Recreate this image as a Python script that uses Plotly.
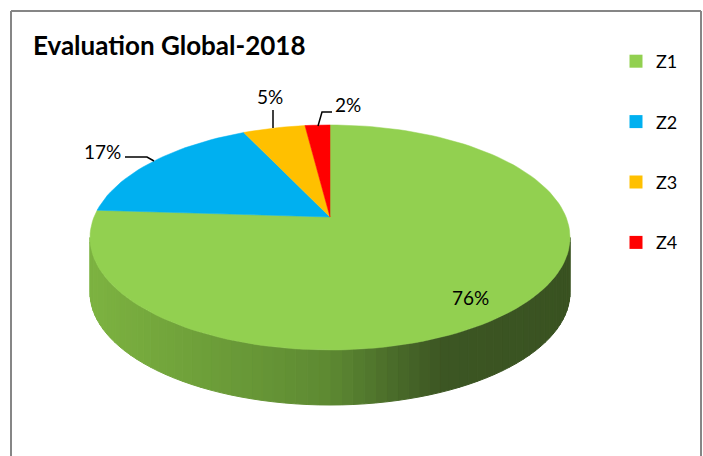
import math
import plotly.graph_objects as go

# ---- data ----
zones = ["Z1", "Z2", "Z3", "Z4"]
values = [76, 17, 5, 2]
labels = ["76%", "17%", "5%", "2%"]
colors = ["#92D050", "#00B0F0", "#FFC000", "#FF0000"]

W, H = 703, 456
# pie geometry (pixel space of the hidden axes)
CX, CY = 330, 217       # apex of the pie
RX, RY = 236, 108.8     # radii
K = 0.182               # perspective factor
DEPTH = 55              # thickness of the 3D side


def proj(theta_deg, r=1.0):
    t = math.radians(theta_deg)
    u, v = r * math.sin(t), r * math.cos(t)
    s = 1.0 / (1.0 + K * v)
    return CX + RX * u * s, CY - RY * v * s


def arc(a0, a1, n):
    pts = [proj(a0 + (a1 - a0) * i / n) for i in range(n + 1)]
    return [p[0] for p in pts], [p[1] for p in pts]


def lerp_color(x):
    stops = [(94, (124, 178, 64)), (330, (93, 137, 50)), (440, (60, 86, 35)), (570, (57, 82, 33))]
    if x <= stops[0][0]:
        c = stops[0][1]
    elif x >= stops[-1][0]:
        c = stops[-1][1]
    else:
        for (x0, c0), (x1, c1) in zip(stops, stops[1:]):
            if x0 <= x <= x1:
                f = (x - x0) / (x1 - x0)
                c = tuple(c0[i] + (c1[i] - c0[i]) * f for i in range(3))
                break
    return "rgb(%d,%d,%d)" % tuple(int(round(v)) for v in c)


fig = go.Figure()

# ---- side wall (front half, belongs to the first slice) ----
ta = math.degrees(math.acos(-K))
tb = 360 - ta
N = 70
for i in range(N):
    a0 = ta + (tb - ta) * i / N
    a1 = ta + (tb - ta) * (i + 1) / N
    xs, ys = arc(a0, a1, 3)
    px = xs + xs[::-1] + [xs[0]]
    py = ys + [y + DEPTH for y in ys[::-1]] + [ys[0]]
    col = lerp_color(sum(xs) / len(xs))
    fig.add_trace(go.Scatter(x=px, y=py, mode="lines", fill="toself", fillcolor=col,
                             line=dict(color=col, width=1), hoverinfo="skip", showlegend=False))

# ---- top face slices ----
total = sum(values)
start = 0.0
for z, v, c in zip(zones, values, colors):
    span = 360.0 * v / total
    n = max(4, int(span / 2))
    xs, ys = arc(start, start + span, n)
    px = [CX] + xs + [CX]
    py = [CY] + ys + [CY]
    fig.add_trace(go.Scatter(x=px, y=py, mode="lines", fill="toself", fillcolor=c,
                             line=dict(color=c, width=0.5), hoverinfo="skip", showlegend=False))
    start += span

# ---- legend entries ----
for z, c in zip(zones, colors):
    fig.add_trace(go.Scatter(x=[None], y=[None], mode="markers", name=z, legendgroup=z,
                             marker=dict(symbol="square", size=13, color=c)))

# ---- data labels ----
font = dict(family="Lato, 'Open Sans', sans-serif", size=19, color="#000000")
label_pos = {"76%": (470, 297), "17%": (102, 151), "5%": (270, 96), "2%": (348, 104)}
for lab in labels:
    x, y = label_pos[lab]
    fig.add_annotation(x=x, y=y, text=lab, showarrow=False, font=font, xanchor="center", yanchor="middle")

leaders = [
    ([125, 147, 154], [157, 157, 161]),
    ([273, 273], [110, 128]),
    ([318, 322, 332], [126, 112, 112]),
]
for lx, ly in leaders:
    fig.add_trace(go.Scatter(x=lx, y=ly, mode="lines", line=dict(color="#000000", width=1.5),
                             hoverinfo="skip", showlegend=False))

# ---- chart border ----
fig.add_shape(type="line", x0=11, y0=11, x1=701, y1=11, line=dict(color="#868686", width=2))
fig.add_shape(type="line", x0=11, y0=11, x1=11, y1=456, line=dict(color="#868686", width=2))
fig.add_shape(type="line", x0=701, y0=11, x1=701, y1=456, line=dict(color="#868686", width=2))

fig.update_layout(
    width=W, height=H,
    margin=dict(l=0, r=0, t=0, b=0),
    paper_bgcolor="white", plot_bgcolor="white",
    title=dict(text="<b>Evaluation Global-2018</b>", x=33 / W, xanchor="left", y=1 - 46 / H, yanchor="middle",
               font=dict(family="Lato, 'Open Sans', sans-serif", size=26, color="#000000")),
    xaxis=dict(range=[0, W], visible=False, fixedrange=True),
    yaxis=dict(range=[H, 0], visible=False, fixedrange=True),
    legend=dict(x=616 / W, xanchor="left", y=1 - 43 / H, yanchor="top",
                font=dict(family="Lato, 'Open Sans', sans-serif", size=18, color="#000000"),
                tracegroupgap=34, bgcolor="rgba(0,0,0,0)"),
    showlegend=True,
)

fig.write_html("out.html")
